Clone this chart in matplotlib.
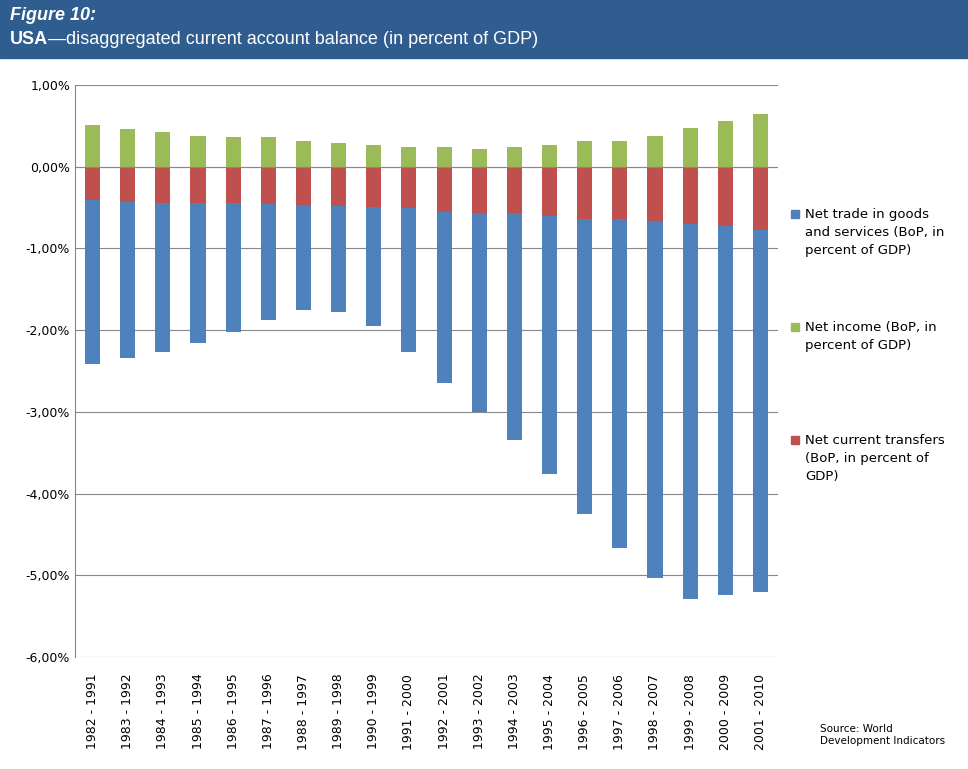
import matplotlib.pyplot as plt
import numpy as np

periods = ["1982 - 1991", "1983 - 1992", "1984 - 1993", "1985 - 1994", "1986 - 1995",
           "1987 - 1996", "1988 - 1997", "1989 - 1998", "1990 - 1999", "1991 - 2000",
           "1992 - 2001", "1993 - 2002", "1994 - 2003", "1995 - 2004", "1996 - 2005",
           "1997 - 2006", "1998 - 2007", "1999 - 2008", "2000 - 2009", "2001 - 2010"]
income = [0.51, 0.46, 0.42, 0.37, 0.36, 0.36, 0.32, 0.29, 0.27, 0.24,
          0.24, 0.22, 0.24, 0.27, 0.31, 0.31, 0.37, 0.47, 0.56, 0.64]
transfers = [-0.41, -0.43, -0.44, -0.45, -0.45, -0.46, -0.47, -0.48, -0.49, -0.50,
             -0.56, -0.57, -0.57, -0.60, -0.64, -0.64, -0.67, -0.70, -0.73, -0.77]
total_neg = [-2.42, -2.34, -2.27, -2.16, -2.02, -1.88, -1.75, -1.78, -1.95, -2.27,
             -2.65, -3.00, -3.35, -3.76, -4.25, -4.67, -5.03, -5.29, -5.24, -5.20]
trade = [t - r for t, r in zip(total_neg, transfers)]

fig = plt.figure(figsize=(9.68, 7.69), dpi=100)
fig.patches.append(plt.Rectangle((0, 1 - 58/769), 1, 58/769, transform=fig.transFigure,
                                 color="#2F5D8F", zorder=0))
fig.text(10/968, 1 - 15/769, "Figure 10:", color="white", fontsize=13, fontweight="bold",
         style="italic", family="Liberation Sans", va="center")
fig.text(10/968, 1 - 40/769, "USA", color="white", fontsize=13, fontweight="bold",
         family="Liberation Sans", va="center")
fig.text(48/968, 1 - 40/769, "\u2014disaggregated current account balance (in percent of GDP)",
         color="white", fontsize=13, family="Liberation Sans", va="center")

ax = fig.add_axes([75/968, 1 - 657/769, (778 - 75)/968, (657 - 85)/769])
x = np.arange(len(periods))
w = 0.43
ax.bar(x, trade, w, bottom=transfers, color="#4F81BD", zorder=3)
ax.bar(x, income, w, color="#9BBB59", zorder=3)
ax.bar(x, transfers, w, color="#C0504D", zorder=3)
ax.set_ylim(-6, 1)
ax.set_xlim(-0.5, len(periods) - 0.5)
yt = np.arange(-6, 1.01, 1)
ax.set_yticks(yt)
ax.set_yticklabels([f"{v:.2f}%".replace(".", ",") for v in yt], fontsize=9)
ax.yaxis.grid(True, color="#888888", lw=0.8, zorder=0)
ax.set_xticks(x)
ax.set_xticklabels(periods, rotation=90, fontsize=9)
ax.tick_params(axis="x", length=0, pad=12)
ax.tick_params(axis="y", length=0)
for s in ["top", "right", "bottom"]:
    ax.spines[s].set_visible(False)
ax.spines["left"].set_color("#888888")
ax.axhline(0, color="#888888", lw=0.8, zorder=4)

legend_items = [("#4F81BD", "Net trade in goods\nand services (BoP, in\npercent of GDP)", 208),
                ("#9BBB59", "Net income (BoP, in\npercent of GDP)", 321),
                ("#C0504D", "Net current transfers\n(BoP, in percent of\nGDP)", 434)]
for col, txt, ypx in legend_items:
    fig.patches.append(plt.Rectangle((791/968, 1 - (ypx + 10)/769), 8/968, 8/769,
                                     transform=fig.transFigure, color=col))
    fig.text(805/968, 1 - ypx/769, txt, fontsize=9.5, va="top", linespacing=1.5)
fig.text(820/968, 1 - 735/769, "Source: World\nDevelopment Indicators", fontsize=7.5, va="center")
fig.savefig("out.png", dpi=100)
